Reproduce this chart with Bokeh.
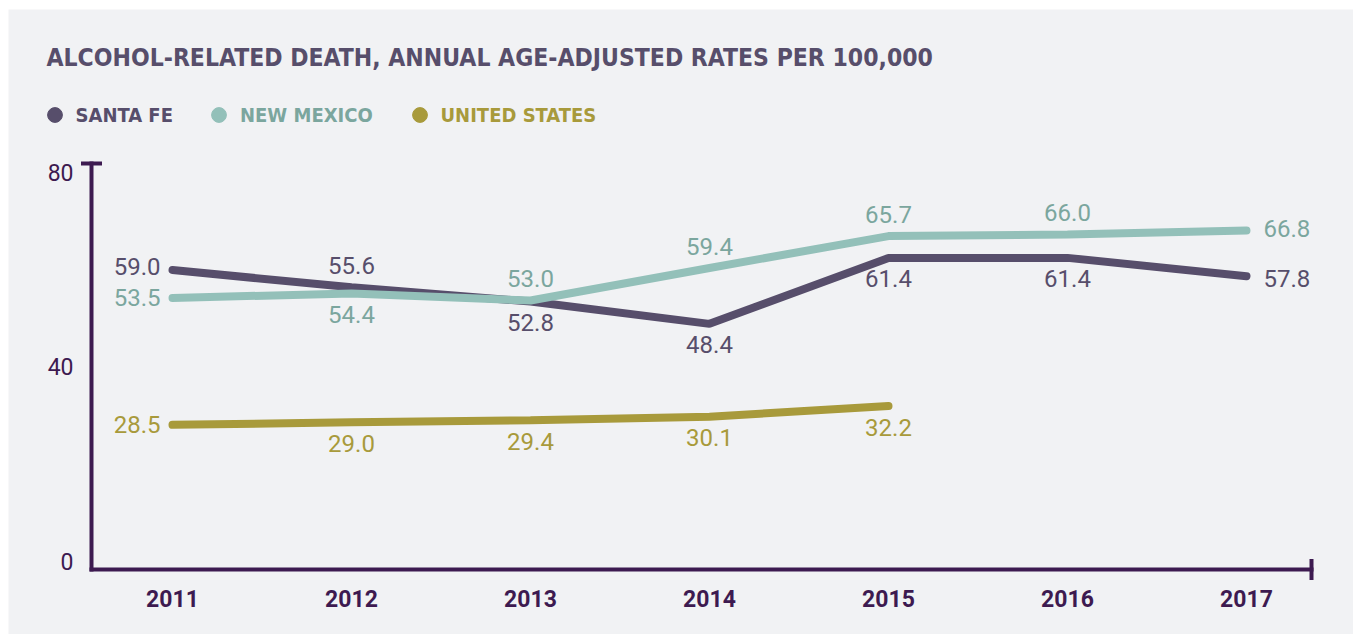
from bokeh.plotting import figure
from bokeh.models import (Range1d, Label, ColumnDataSource, Legend, LegendItem,
                          Arrow, TeeHead)
from bokeh.core.properties import value
from bokeh.embed import file_html
from bokeh.resources import INLINE

# ---------------- data ----------------
years = [2011, 2012, 2013, 2014, 2015, 2016, 2017]
santa_fe = [59.0, 55.6, 52.8, 48.4, 61.4, 61.4, 57.8]
new_mexico = [53.5, 54.4, 53.0, 59.4, 65.7, 66.0, 66.8]
united_states = [28.5, 29.0, 29.4, 30.1, 32.2]
y_ticks = [0, 40, 80]
series_names = ["SANTA FE", "NEW MEXICO", "UNITED STATES"]
title_text = "ALCOHOL-RELATED DEATH, ANNUAL AGE-ADJUSTED RATES PER 100,000"

# ---------------- style / layout ----------------
BG = "#f1f2f4"
AX = "#3d1a50"
line_colors = ["#574e6b", "#93c0b9", "#a89a3b"]
text_colors = ["#574e6b", "#7ba69e", "#a89a3b"]
LABEL_FONT = "Roboto"
NARROW = "DejaVu Sans Condensed, Roboto"

W, H = 1353, 634          # canvas
FL, FT = 8, 9             # white strip left / top (frame starts there)
FW, FH = W - FL, H - FT   # frame size
PX_X = 179.0              # px per year
PX_Y = 406.0 / 80.0       # px per unit
X0 = 172                  # canvas x of first year
Y0 = 569                  # canvas y of value 0
AXIS_LEFT = 91            # canvas x of y-axis line
AXIS_RIGHT = 1311         # canvas x of x-axis end

x_start = years[0] - (X0 - FL) / PX_X
x_range = Range1d(x_start, x_start + FW / PX_X)
y_range = Range1d(-(H - Y0) / PX_Y, (Y0 - FT) / PX_Y)
axis_x0 = years[0] - (X0 - AXIS_LEFT) / PX_X
axis_x1 = years[0] + (AXIS_RIGHT - X0) / PX_X

p = figure(width=W, height=H, x_range=x_range, y_range=y_range,
           output_backend="svg", toolbar_location=None,
           x_axis_location=None, y_axis_location=None,
           min_border_left=FL, min_border_top=FT, min_border_right=0,
           min_border_bottom=0, background_fill_color=BG,
           border_fill_color="white", outline_line_color=None)
p.xgrid.visible = False
p.ygrid.visible = False

# axes lines with end caps
p.add_layout(Arrow(x_start=axis_x0, y_start=y_ticks[0], x_end=axis_x0, y_end=y_ticks[-1],
                   line_color=AX, line_width=4, line_cap="square",
                   end=TeeHead(size=21, line_width=4, line_color=AX)))
p.add_layout(Arrow(x_start=axis_x0, y_start=y_ticks[0], x_end=axis_x1, y_end=y_ticks[0],
                   line_color=AX, line_width=4, line_cap="square",
                   end=TeeHead(size=21, line_width=4, line_color=AX)))

# y tick labels
n = len(y_ticks)
yoffs = [(-8 if i == 0 else (9 if i == n - 1 else 0)) for i in range(n)]
ysrc = ColumnDataSource(dict(x=[axis_x0] * n, y=y_ticks,
                             text=[str(t) for t in y_ticks], yoff=yoffs))
p.text(x="x", y="y", text="text", source=ysrc, x_offset=-18, y_offset="yoff",
       text_align="right", text_baseline="middle", text_font=value(LABEL_FONT),
       text_font_size="23px", text_color=AX)

# x tick labels
xsrc = ColumnDataSource(dict(x=years, y=[y_ticks[0]] * len(years),
                             text=[str(y) for y in years]))
p.text(x="x", y="y", text="text", source=xsrc, y_offset=29,
       text_align="center", text_baseline="middle", text_font=value(LABEL_FONT),
       text_font_style="bold", text_font_size="23px", text_color=AX)

# series lines + labels
all_series = [santa_fe, new_mexico, united_states]
for k, vals in enumerate(all_series):
    xs = years[:len(vals)]
    p.line(xs, vals, line_width=8, line_color=line_colors[k], line_cap="round")

for k, vals in enumerate(all_series):
    xs = years[:len(vals)]
    aligns, xo, yo = [], [], []
    for j, v in enumerate(vals):
        others = [s[j] for m, s in enumerate(all_series) if m != k and j < len(s)]
        highest = all(v >= o for o in others)
        if j == 0:
            aligns.append("right"); xo.append(-12); yo.append(-4 if highest else 0)
        elif j == len(years) - 1:
            aligns.append("left"); xo.append(17); yo.append(-2 if highest else 2)
        else:
            aligns.append("center"); xo.append(0); yo.append(-22 if highest else 21)
    src = ColumnDataSource(dict(x=xs, y=vals, text=[f"{v:.1f}" for v in vals],
                                align=aligns, xo=xo, yo=yo))
    p.text(x="x", y="y", text="text", source=src, text_align="align",
           text_baseline="middle", x_offset="xo", y_offset="yo",
           text_font=value(LABEL_FONT), text_font_size="24px",
           text_color=text_colors[k])

# title (screen units are relative to the frame's bottom-left)
p.add_layout(Label(x=46 - FL, y=H - 57, x_units="screen", y_units="screen",
                   text=title_text, text_font=NARROW, text_font_style="bold",
                   text_font_size="24.5px", text_color=text_colors[0],
                   text_baseline="alphabetic"))

# legend (one per series so each label has its own colour)
leg_x = [35.5, 200, 400.5]
for k, name in enumerate(series_names):
    vals = all_series[k]
    r = p.scatter(x=years[:len(vals)], y=vals, marker="circle", size=15,
                  color=line_colors[k], visible=False)
    leg = Legend(items=[LegendItem(label=name, renderers=[r])],
                 location=(leg_x[k] - FL, H - 133), orientation="horizontal",
                 glyph_width=37, glyph_height=37, label_standoff=3,
                 padding=0, margin=0, spacing=0, border_line_color=None,
                 background_fill_alpha=0, label_text_font=NARROW,
                 label_text_font_style="bold", label_text_font_size="20px",
                 label_text_color=text_colors[k])
    p.add_layout(leg)

open("out.html", "w").write(file_html(p, INLINE))
